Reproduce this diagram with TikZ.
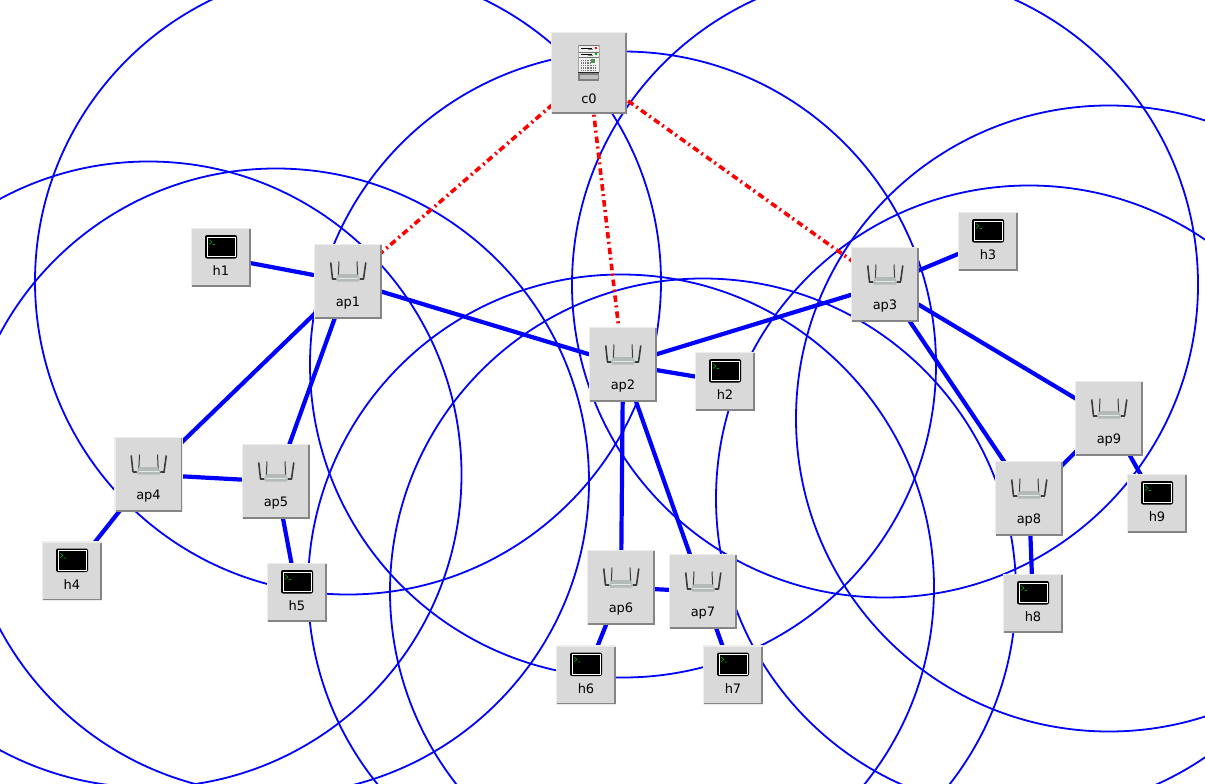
\documentclass[tikz,border=0pt]{standalone}
\usepackage{fontspec}
\setmainfont{DejaVu Sans}
\definecolor{boxfill}{HTML}{D9D9D9}
\definecolor{boxlight}{HTML}{EDEDED}
\definecolor{boxdark}{HTML}{858585}
\definecolor{antenna}{HTML}{3C3C3C}
\definecolor{apbody}{HTML}{B4BAB8}
\tikzset{
  x=1pt,y=-1pt,
  rangecircle/.style={draw=blue,line width=1.8pt},
  wifilink/.style={draw=blue,line width=4.2pt},
  ctrllink/.style={draw=red,line width=3.6pt,dash pattern=on 6.5pt off 3.5pt on 2pt off 4pt},
  apbox/.style={rectangle,draw=boxlight,fill=boxfill,line width=1.2pt,minimum width=67pt,minimum height=74pt,inner sep=0pt},
  hostbox/.style={rectangle,draw=boxlight,fill=boxfill,line width=1.2pt,minimum width=59pt,minimum height=58pt,inner sep=0pt},
  ctrlbox/.style={rectangle,draw=boxlight,fill=boxfill,line width=1.2pt,minimum width=75pt,minimum height=81pt,inner sep=0pt},
  lbl/.style={font=\fontsize{13pt}{15pt}\selectfont,text=black,inner sep=0pt},
  shade edge/.style={draw=boxdark,line width=1.2pt},
  antennaline/.style={draw=antenna,line width=1.6pt},
}
\newcommand{\relief}[1]{%
  \draw[shade edge] ([shift={(1.2pt,1.2pt)}]#1.south west) -- ([shift={(-1.2pt,1.2pt)}]#1.south east)
     -- ([shift={(-1.2pt,-1.2pt)}]#1.north east);%
}
\newcommand{\apnode}[4]{%
  \begin{scope}[shift={(#2,#3)}]
    \node[apbox] (#1) at (0,0) {};
    \relief{#1}
    \draw[antennaline] (-17.3,-19) -- (-15.5,-2.5);
    \draw[antennaline] (17.8,-19) -- (15.5,-2.5);
    \draw[antennaline,line width=1pt] (-9,-20) -- (-9.7,-5);
    \draw[antennaline,line width=1pt] (9,-20) -- (9.7,-5);
    \fill[antenna] (-16,-3.4) rectangle (16,-2);
    \fill[apbody] (-9,-7.5) -- (9,-7.5) -- (12,-3) -- (11,0) -- (-11,0) -- (-12,-3) -- cycle;
    \fill[white!65!apbody] (-10,-4) rectangle (10,-2.2);
    \node[lbl] (#1t) at (0,21.5) {#4};
  \end{scope}}
\newcommand{\hostnode}[4]{%
  \begin{scope}[shift={(#2,#3)}]
    \node[hostbox] (#1) at (0,0) {};
    \relief{#1}
    \fill[black,rounded corners=2pt] (-16,-22.5) rectangle (16,1);
    \draw[white,line width=.8pt] (-14,-20.5) rectangle (14,-0.8);
    \draw[green!65!black,line width=.6pt] (-12,-18) -- (-9,-15.5) -- (-12,-13) (-8.5,-13) -- (-6,-13);
    \node[lbl] (#1t) at (0,13.5) {#4};
  \end{scope}}
\begin{document}
\begin{tikzpicture}
\path[use as bounding box,clip] (0,0) rectangle (1205,784);
% anchors for the stations, so range circles and links can be drawn first
\foreach \n/\a/\b in {c0/589/73,ap1/348/281.5,ap2/623/364.5,ap3/885/284.5,ap4/148.5/474.5,
  ap5/276/481.5,ap6/621/587.5,ap7/703/591.5,ap8/1029/498.5,ap9/1109/418.5,
  h1/221/257.5,h2/725/381.5,h3/988/241.5,h4/72/571,h5/297/592.5,h6/586/675,h7/733/675,h8/1033/603.5,h9/1157/503.5}
  {\coordinate (p\n) at (\a,\b);}
% range circles
\foreach \n in {ap1,ap2,ap3,ap4,ap5,ap6,ap7,ap8,ap9}
  {\draw[rangecircle] (p\n) circle[radius=313];}
% links
\foreach \a/\b in {h1/ap1,ap1/ap2,ap2/ap3,ap2/h2,ap3/h3,ap3/ap9,ap3/ap8,ap8/ap9,ap9/h9,ap8/h8,
  ap1/ap4,ap1/ap5,ap4/ap5,ap4/h4,ap5/h5,ap2/ap6,ap2/ap7,ap6/ap7,ap6/h6,ap7/h7}
  {\draw[wifilink] (p\a) -- (p\b);}
\foreach \b in {ap1,ap2,ap3}
  {\draw[ctrllink] (pc0) -- (p\b);}
% stations
\apnode{ap1}{348}{281.5}{ap1}
\apnode{ap2}{623}{364.5}{ap2}
\apnode{ap3}{885}{284.5}{ap3}
\apnode{ap4}{148.5}{474.5}{ap4}
\apnode{ap5}{276}{481.5}{ap5}
\apnode{ap6}{621}{587.5}{ap6}
\apnode{ap7}{703}{591.5}{ap7}
\apnode{ap8}{1029}{498.5}{ap8}
\apnode{ap9}{1109}{418.5}{ap9}
\hostnode{h1}{221}{257.5}{h1}
\hostnode{h2}{725}{381.5}{h2}
\hostnode{h3}{988}{241.5}{h3}
\hostnode{h4}{72}{571}{h4}
\hostnode{h5}{297}{592.5}{h5}
\hostnode{h6}{586}{675}{h6}
\hostnode{h7}{733}{675}{h7}
\hostnode{h8}{1033}{603.5}{h8}
\hostnode{h9}{1157}{503.5}{h9}
% controller
\begin{scope}[shift={(589,73)}]
  \node[ctrlbox] (c0) at (0,0) {};
  \relief{c0}
  \fill[white!94!black] (-10.7,-28) rectangle (10.3,-1.3);
  \fill[black!50] (-10.7,0.3) rectangle (10.3,8);
  \fill[black!25] (-9,2) rectangle (8.5,6);
  \fill[black!85] (-10.7,-1.3) rectangle (10.3,0.3);
  \draw[black!55,line width=.9pt] (-10.7,-28) -- (10.3,-28) (-10.7,-21) -- (10.3,-21) (-10.7,-15.2) -- (10.3,-15.2);
  \draw[black!35,line width=.6pt] (-10.7,-28) -- (-10.7,-1) (10.3,-28) -- (10.3,-1);
  \fill[black] (-8.3,-25.2) rectangle (2.7,-24.2);
  \fill[black!50] (-1,-24.2) rectangle (4,-23.2);
  \fill[black] (-8.3,-19.2) rectangle (2.7,-18.2);
  \fill[black!50] (-1,-18.2) rectangle (4,-17.2);
  \fill[red] (6.3,-25.5) rectangle (7.8,-24);
  \fill[green!70!black] (6.3,-19.5) rectangle (7.8,-18);
  \foreach \r in {-12.5,-10,-7.5,-5,-2.7}
    {\draw[black!55,line width=1.1pt,dash pattern=on 1.1pt off 1.2pt] (-8.5,\r) -- (1,\r);}
  \fill[black!30!green!40!gray] (1.7,-13.5) rectangle (6,-10);
  \foreach \r in {-7.5,-5,-2.7}
    {\draw[black!55,line width=1.1pt,dash pattern=on 1.1pt off 1.2pt] (1.7,\r) -- (8,\r);}
  \node[lbl] (c0t) at (0,26) {c0};
\end{scope}
\end{tikzpicture}
\end{document}
